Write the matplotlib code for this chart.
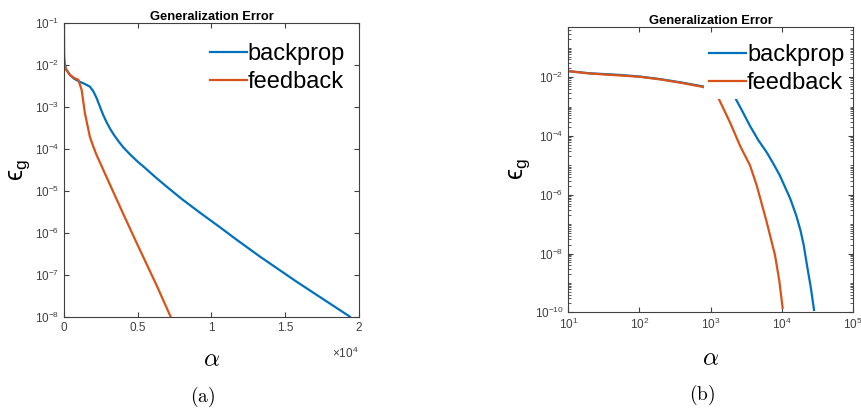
import matplotlib
matplotlib.use('Agg')
import matplotlib.pyplot as plt
from matplotlib.ticker import FixedLocator, FuncFormatter, LogLocator, NullLocator, NullFormatter

plt.rcParams['font.family'] = ['Liberation Sans', 'DejaVu Sans']
plt.rcParams['mathtext.fontset'] = 'custom'
plt.rcParams['mathtext.rm'] = 'Liberation Sans'
plt.rcParams['mathtext.sf'] = 'Liberation Sans'
plt.rcParams['mathtext.it'] = 'Liberation Sans:italic'

BLUE = '#0072BD'
ORANGE = '#D95319'
AXC = '#404040'

# panel (a): linear alpha
alpha_bp_a = [30, 120, 407, 700, 1085, 1400, 1760, 2000, 2215, 2440, 2665, 2900, 3150, 3400,
              3700, 4020, 4500, 5000, 5376, 6200, 6963, 8000, 9220, 10576, 11708, 13288,
              15776, 19390]
err_bp_a = [1.2e-2, 8e-3, 5.7e-3, 4.6e-3, 3.9e-3, 3.5e-3, 3e-3, 2.3e-3, 1.6e-3, 1.0e-3, 6.3e-4,
            4.2e-4, 2.9e-4, 2.1e-4, 1.5e-4, 1.08e-4, 7.2e-5, 4.9e-5, 3.8e-5, 2.1e-5, 1.25e-5,
            6.3e-6, 3e-6, 1.35e-6, 6.8e-7, 2.7e-7, 6.8e-8, 1e-8]
alpha_fb_a = [0, 5, 15, 40, 120, 407, 700, 973, 1200, 1420, 1760, 2000, 2215, 2440, 2890, 3573,
              4020, 4700, 5150, 6290, 7230]
err_fb_a = [0.5, 0.06, 0.02, 1.1e-2, 8e-3, 5.7e-3, 4.8e-3, 4.4e-3, 2.5e-3, 7e-4, 1.9e-4, 1.1e-4,
            7e-5, 4.7e-5, 2.1e-5, 6.2e-6, 2.8e-6, 8.5e-7, 3.9e-7, 5.5e-8, 1e-8]

# panel (b): log alpha
alpha_bp_b = [10, 20, 50, 100, 200, 400, 790, 1200, 1600, 2076, 2700, 3563, 4700, 6110, 7500,
              9330, 13100, 16000, 18300, 20300, 22500, 25500, 28300]
err_bp_b = [1.6e-2, 1.35e-2, 1.2e-2, 1.05e-2, 8.5e-3, 6.5e-3, 4.8e-3, 4e-3, 3.3e-3, 2.6e-3, 8e-4,
            2.2e-4, 7e-5, 2.8e-5, 1.2e-5, 4.6e-6, 7.4e-7, 1.9e-7, 6e-8, 1.9e-8, 4.1e-9,
            7e-10, 1.2e-10]
alpha_fb_b = [10, 20, 50, 100, 200, 400, 790, 1000, 1213, 1866, 2578, 3563, 4426, 6110, 8000,
              9200, 10250]
err_fb_b = [1.6e-2, 1.33e-2, 1.15e-2, 1.03e-2, 8.3e-3, 6.3e-3, 4.6e-3, 3.6e-3, 2.6e-3, 2.9e-4,
            4.7e-5, 1e-5, 2.1e-6, 1.2e-7, 8.9e-9, 1.2e-9, 1.4e-10]

fig = plt.figure(figsize=(8.62, 4.12), dpi=100)
ax1 = fig.add_axes([0.0742, 0.2313, 0.3422, 0.7136])
ax2 = fig.add_axes([0.6593, 0.2420, 0.3303, 0.6932])


def style(ax):
    for s in ax.spines.values():
        s.set_color(AXC)
        s.set_linewidth(0.8)
    ax.tick_params(which='both', direction='in', top=True, right=True, colors=AXC,
                   labelcolor=AXC, labelsize=8.5)
    ax.tick_params(which='major', length=3.5)
    ax.tick_params(which='minor', length=2)
    ax.set_title('Generalization Error', fontsize=9.3, fontweight='bold', pad=1.5)
    ax.set_ylabel('ϵ$_{\\mathsf{g}}$', fontsize=18, labelpad=2)
    ax.set_xlabel(r'$\alpha$', fontsize=18, math_fontfamily='cm', labelpad=10)


def add_legend(ax, x0, y0):
    leg = ax.legend(loc='lower left', bbox_to_anchor=(x0, y0), fontsize=17, frameon=True,
                    handlelength=1.57, handletextpad=0.05, borderaxespad=0.0,
                    labelspacing=0.25, borderpad=0.2, fancybox=False)
    leg.get_frame().set_edgecolor('none')
    leg.get_frame().set_alpha(1)
    return leg


ax1.plot(alpha_bp_a, err_bp_a, color=BLUE, lw=1.6, label='backprop')
ax1.plot(alpha_fb_a, err_fb_a, color=ORANGE, lw=1.6, label='feedback')
ax1.set_yscale('log')
ax1.set_xlim(0, 20000)
ax1.set_ylim(1e-8, 1e-1)
ax1.xaxis.set_major_locator(FixedLocator([0, 5000, 10000, 15000, 20000]))
ax1.xaxis.set_major_formatter(FuncFormatter(lambda v, p: '%g' % (v / 1e4)))
ax1.yaxis.set_major_locator(LogLocator(base=10, numticks=20))
ax1.yaxis.set_minor_locator(NullLocator())
style(ax1)
ax1.text(1.0, -0.1, '×10$^{4}$', transform=ax1.transAxes, ha='right', va='top',
         fontsize=8.5, color=AXC)
add_legend(ax1, 0.478, 0.745)

ax2.plot(alpha_bp_b, err_bp_b, color=BLUE, lw=1.6, label='backprop')
ax2.plot(alpha_fb_b, err_fb_b, color=ORANGE, lw=1.6, label='feedback')
ax2.set_xscale('log')
ax2.set_yscale('log')
ax2.set_xlim(10, 1e5)
ax2.set_ylim(1e-10, 0.52)
ax2.yaxis.set_major_locator(FixedLocator([1e-10, 1e-8, 1e-6, 1e-4, 1e-2]))
ax2.yaxis.set_minor_locator(LogLocator(base=10, subs=range(1, 10), numticks=30))
ax2.yaxis.set_minor_formatter(NullFormatter())
ax2.xaxis.set_minor_locator(NullLocator())
style(ax2)
add_legend(ax2, 0.477, 0.748)

fig.text(0.2355, 0.036, r'$\mathrm{(a)}$', ha='center', va='center', fontsize=14,
         math_fontfamily='cm')
fig.text(0.8145, 0.041, r'$\mathrm{(b)}$', ha='center', va='center', fontsize=14,
         math_fontfamily='cm')

fig.savefig('out.png', dpi=100)
